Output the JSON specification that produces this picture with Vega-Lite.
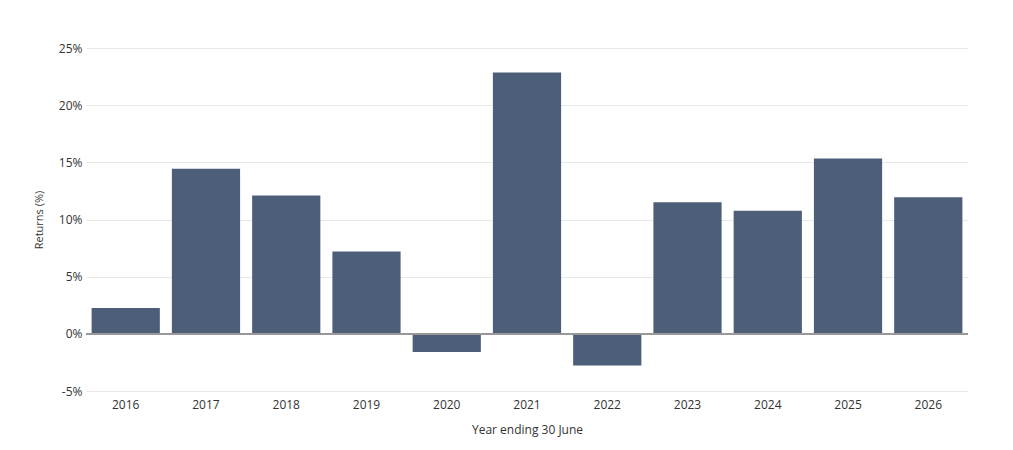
{
  "$schema": "https://vega.github.io/schema/vega-lite/v6.json",
  "width": 882,
  "height": 343,
  "autosize": {"type": "none"},
  "padding": {"left": 86, "top": 48, "right": 45, "bottom": 59},
  "config": {
    "font": "Open Sans",
    "view": {"stroke": null},
    "axis": {"labelFont": "Open Sans", "titleFont": "Open Sans", "labelColor": "#333", "titleColor": "#333", "titleFontWeight": "normal"}
  },
  "data": {
    "values": [
      {"year": "2016", "ret": 2.26},
      {"year": "2017", "ret": 14.44},
      {"year": "2018", "ret": 12.10},
      {"year": "2019", "ret": 7.21},
      {"year": "2020", "ret": -1.58},
      {"year": "2021", "ret": 22.85},
      {"year": "2022", "ret": -2.76},
      {"year": "2023", "ret": 11.51},
      {"year": "2024", "ret": 10.77},
      {"year": "2025", "ret": 15.33},
      {"year": "2026", "ret": 11.94}
    ]
  },
  "encoding": {
    "x": {
      "field": "year", "type": "ordinal", "title": "Year ending 30 June",
      "scale": {"paddingInner": 0.15, "paddingOuter": 0.07},
      "axis": {"labelAngle": 0, "ticks": false, "domain": false, "labelFontSize": 12, "titleFontSize": 12, "labelPadding": 8, "titlePadding": 14}
    },
    "y": {
      "field": "ret", "type": "quantitative", "title": "Returns (%)",
      "scale": {"domain": [-5, 25], "nice": false},
      "axis": {"values": [-5, 0, 5, 10, 15, 20, 25], "labelExpr": "datum.value + '%'", "ticks": false, "domain": false, "gridColor": "#e8e8e8", "labelFontSize": 12, "titleFontSize": 11, "labelPadding": 4, "titlePadding": 14}
    }
  },
  "layer": [
    {"mark": {"type": "bar", "color": "#4d5e78"}},
    {"mark": {"type": "rule", "color": "#999"}, "encoding": {"x": {"value": 0}, "x2": {"value": 882}, "y": {"datum": 0}}},
    {
      "mark": {"type": "text", "fontSize": 12, "color": "#222"},
      "encoding": {
        "text": {"field": "ret", "type": "quantitative", "format": ".2f"},
        "y": {"field": "ret", "type": "quantitative"},
        "yOffset": {"condition": {"test": "datum.ret < 0", "value": 10}, "value": -7},
        "text": {"signal": "format(datum.ret, '.2f') + '%'"}
      }
    }
  ]
}
